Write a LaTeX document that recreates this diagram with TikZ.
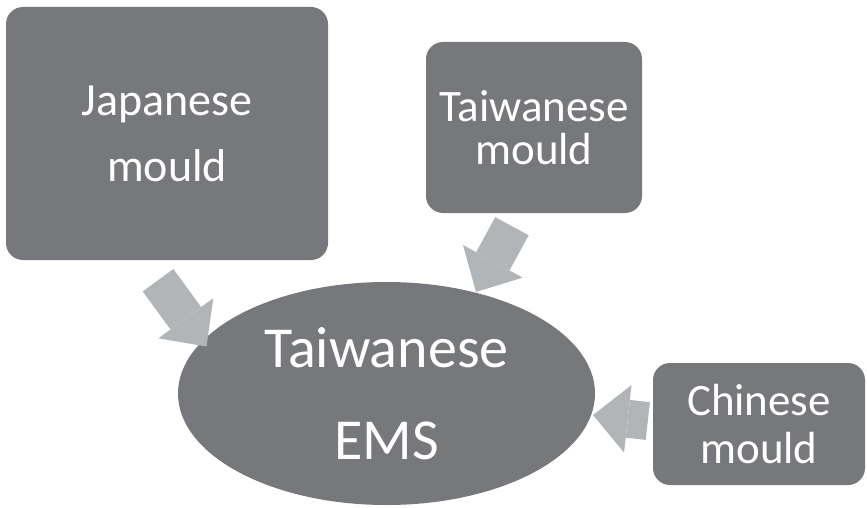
\documentclass[tikz,border=0pt]{standalone}
\usepackage{fontspec}
\setmainfont{Carlito}
\usepackage{tikz}
\usetikzlibrary{arrows.meta,shapes.geometric,positioning}

\definecolor{boxgray}{HTML}{77787C}
\definecolor{arrowgray}{HTML}{B2B5B7}

\begin{document}
\begin{tikzpicture}[x=1pt,y=-1pt,
                    feed/.style={draw=arrowgray,line width=38pt,
                      -{Triangle[length=35pt,width=68pt,line width=0pt]}}]
	\tikzstyle{every node}=[text=white,inner sep=0pt,align=center]
	\tikzstyle{mould}=[fill=boxgray,rounded corners=17pt]
	\useasboundingbox (0,0) rectangle (867,508);

	\node[mould,minimum width=322pt,minimum height=253pt,
	      font=\fontsize{46}{66}\selectfont]	(jp)	at (167,133.5)	{Japanese\\mould};
	\node[mould,minimum width=216pt,minimum height=171pt,
	      font=\fontsize{45}{43}\selectfont]	(tw)	at (534,127.5)	{Taiwanese\\mould};
	\node[mould,minimum width=212pt,minimum height=122pt,
	      font=\fontsize{45}{48}\selectfont]	(cn)	at (759,424)	{Chinese\\mould};
	\node[ellipse,fill=boxgray,minimum width=417pt,minimum height=223pt,
	      font=\fontsize{58}{92}\selectfont]	(ems)	at (386.5,393.5)	{Taiwanese\\EMS};

	\draw[feed] ([shift={(-9,20)}]jp.south) -- ([shift={(-180,-47)}]ems.center);
	\draw[feed] ([shift={(-22,13)}]tw.south) -- ([shift={(89.5,-101.5)}]ems.center);
	\draw[feed] ([shift={(-5,-3)}]cn.west) -- ([shift={(206.5,21.5)}]ems.center);
\end{tikzpicture}
\end{document}
